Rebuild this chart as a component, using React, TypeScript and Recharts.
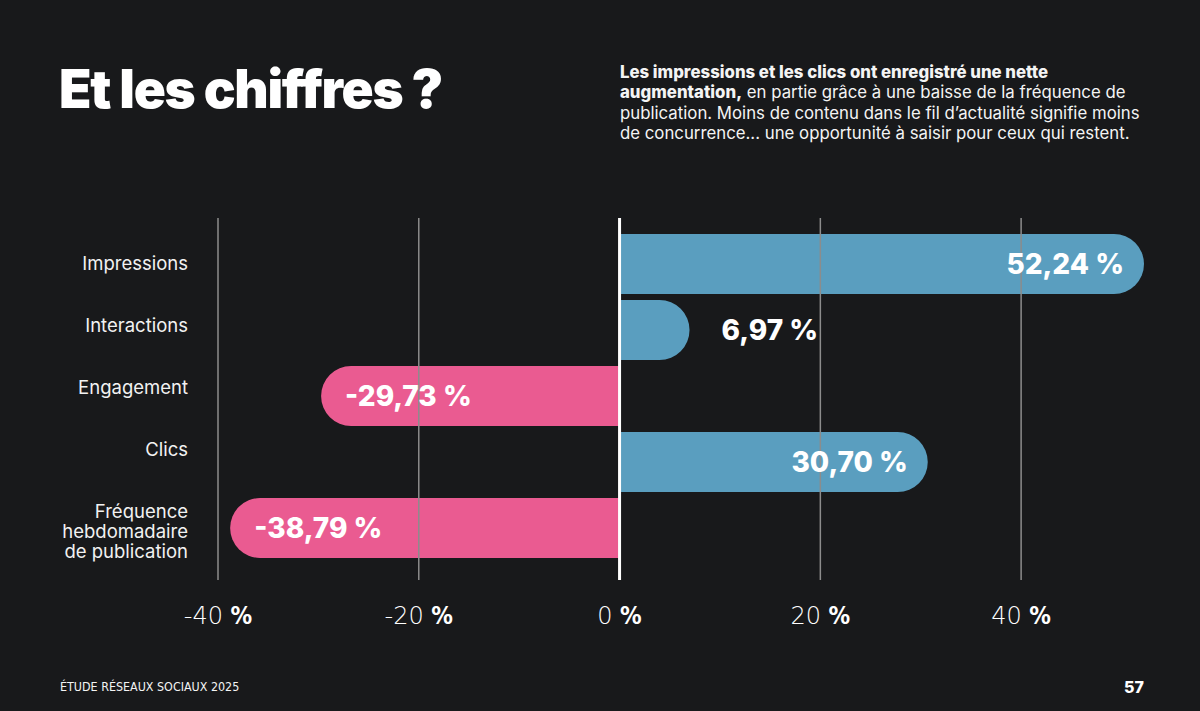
import { BarChart, Bar, XAxis, YAxis, ReferenceLine, LabelList, Cell } from "recharts"

const categories = ["Impressions", "Interactions", "Engagement", "Clics", "Fréquence\nhebdomadaire\nde publication"]
const changes = [52.24, 6.97, -29.73, 30.7, -38.79]
const xTicks = [-40, -20, 0, 20, 40]

const data = categories.map((name, i) => ({ name, value: changes[i] }))

const BG = "#18191b"
const BLUE = "#5a9ebf"
const PINK = "#ea5b91"
const NARROW = "'DejaVu Sans', sans-serif"

const fmt = (v: number) => v.toFixed(2).replace(".", ",") + " %"

// labels sit on a 62px rhythm while bars use 66px, so the first line drifts up a bit per row
function CategoryTick({ y, payload, index }: any) {
  const lines = String(payload.value).split("\n")
  const lh = 20
  const start = y - (index ?? 0) * 4
  return (
    <text x={188} y={start} textAnchor="end" fill="#f2f2f2" fontSize={18.5} fontFamily="Inter">
      {lines.map((l, i) => (
        <tspan key={i} x={188} y={start + i * lh} dy="0.35em">
          {l}
        </tspan>
      ))}
    </text>
  )
}

function PercentTick({ x, y, payload }: any) {
  return (
    <text x={x} y={y + 36} textAnchor="middle" fill="#ffffff" fontSize={24} fontFamily={NARROW} style={{ fontStretch: "condensed" }}>
      <tspan fontWeight={200}>{payload.value}</tspan>
      <tspan fontWeight={700}> %</tspan>
    </text>
  )
}

function ValueLabel(props: any) {
  const { x, y, width, height, value } = props
  const end = x + width
  const cy = y + height / 2
  const small = Math.abs(value) < 10
  let tx = end
  let anchor: "start" | "end" = "end"
  if (value >= 0) {
    if (small) {
      tx = end + 32
      anchor = "start"
    } else {
      tx = end - 20
      anchor = "end"
    }
  } else {
    tx = end + 24
    anchor = "start"
  }
  return (
    <text x={tx} y={cy} dy="0.36em" textAnchor={anchor} fill="#ffffff" fontSize={28} fontWeight={800} fontFamily="Inter">
      {fmt(value)}
    </text>
  )
}

export default function App() {
  return (
    <div style={{ position: "absolute", left: 0, top: 0, width: 1200, height: 711, background: BG, overflow: "hidden", fontFamily: "Inter" }}>
      <div style={{ position: "absolute", left: 59, top: 57, color: "#fff", fontSize: 53, fontWeight: 900, letterSpacing: -1.3 }}>
        Et les chiffres ?
      </div>
      <div style={{ position: "absolute", left: 620, top: 62, width: 570, color: "#f4f4f4", fontSize: 16.8, lineHeight: "20.4px" }}>
        <b style={{ fontWeight: 800 }}>Les impressions et les clics ont enregistré une nette</b>
        <br />
        <b style={{ fontWeight: 800 }}>augmentation,</b> en partie grâce à une baisse de la fréquence de
        <br />
        publication. Moins de contenu dans le fil d’actualité signifie moins
        <br />
        de concurrence... une opportunité à saisir pour ceux qui restent.
      </div>
      <div style={{ position: "absolute", left: 60, top: 679, color: "#f4f4f4", fontSize: 12.4, fontFamily: NARROW, fontStretch: "condensed" }}>
        ÉTUDE RÉSEAUX SOCIAUX 2025
      </div>
      <div style={{ position: "absolute", left: 1124, top: 677, color: "#fff", fontSize: 16, fontWeight: 800 }}>57</div>
      <div style={{ position: "absolute", left: 0, top: 0 }}>
        <BarChart width={1200} height={711} data={data} layout="vertical" margin={{ top: 218, right: 56, bottom: 101, left: 0 }} barCategoryGap={6}>
          <XAxis type="number" domain={[-40, 52.24]} ticks={xTicks} axisLine={false} tickLine={false} tick={<PercentTick />} interval={0} height={30} />
          <YAxis type="category" dataKey="name" width={218} axisLine={false} tickLine={false} tick={<CategoryTick />} padding={{ top: 13, bottom: 19 }} interval={0} />
          {xTicks
            .filter((t) => t !== 0)
            .map((t) => (
              <ReferenceLine key={t} x={t} stroke="#8c8c8c" strokeWidth={1.5} />
            ))}
          <Bar dataKey="value" barSize={60} radius={[0, 30, 30, 0]} isAnimationActive={false}>
            {data.map((d, i) => (
              <Cell key={i} fill={d.value >= 0 ? BLUE : PINK} />
            ))}
            <LabelList dataKey="value" content={<ValueLabel />} />
          </Bar>
          <ReferenceLine x={0} stroke="#ffffff" strokeWidth={3} />
        </BarChart>
      </div>
    </div>
  )
}
